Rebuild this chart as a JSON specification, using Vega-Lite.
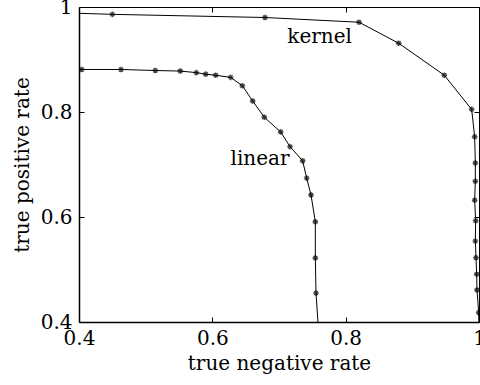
{
  "$schema": "https://vega.github.io/schema/vega-lite/v6.json",
  "width": 400,
  "height": 315,
  "autosize": {"type": "none"},
  "padding": {"left": 79, "top": 7, "right": 1, "bottom": 63},
  "background": "white",
  "config": {
    "view": {"stroke": null},
    "font": "DejaVu Serif",
    "axis": {
      "labelFont": "DejaVu Serif",
      "titleFont": "DejaVu Serif",
      "labelFontSize": 20,
      "titleFontSize": 20,
      "titleFontWeight": "normal",
      "labelColor": "#000",
      "titleColor": "#000",
      "domainColor": "#000",
      "tickColor": "#000",
      "grid": false
    }
  },
  "data": {
    "values": [
      {"series": "kernel", "i": 0, "x": 0.35, "y": 0.990, "m": false},
      {"series": "kernel", "i": 1, "x": 0.45, "y": 0.986, "m": true},
      {"series": "kernel", "i": 2, "x": 0.679, "y": 0.980, "m": true},
      {"series": "kernel", "i": 3, "x": 0.82, "y": 0.971, "m": true},
      {"series": "kernel", "i": 4, "x": 0.8795, "y": 0.931, "m": true},
      {"series": "kernel", "i": 5, "x": 0.948, "y": 0.870, "m": true},
      {"series": "kernel", "i": 6, "x": 0.989, "y": 0.805, "m": true},
      {"series": "kernel", "i": 7, "x": 0.9935, "y": 0.753, "m": true},
      {"series": "kernel", "i": 8, "x": 0.9945, "y": 0.703, "m": true},
      {"series": "kernel", "i": 9, "x": 0.9945, "y": 0.668, "m": true},
      {"series": "kernel", "i": 10, "x": 0.9935, "y": 0.632, "m": true},
      {"series": "kernel", "i": 11, "x": 0.995, "y": 0.593, "m": true},
      {"series": "kernel", "i": 12, "x": 0.9945, "y": 0.554, "m": true},
      {"series": "kernel", "i": 13, "x": 0.9955, "y": 0.5225, "m": true},
      {"series": "kernel", "i": 14, "x": 0.9965, "y": 0.491, "m": true},
      {"series": "kernel", "i": 15, "x": 0.997, "y": 0.461, "m": true},
      {"series": "kernel", "i": 16, "x": 0.9995, "y": 0.418, "m": true},
      {"series": "kernel", "i": 17, "x": 1.0, "y": 0.38, "m": false},
      {"series": "linear", "i": 0, "x": 0.3, "y": 0.881, "m": false},
      {"series": "linear", "i": 1, "x": 0.404, "y": 0.881, "m": true},
      {"series": "linear", "i": 2, "x": 0.463, "y": 0.881, "m": true},
      {"series": "linear", "i": 3, "x": 0.5145, "y": 0.879, "m": true},
      {"series": "linear", "i": 4, "x": 0.552, "y": 0.878, "m": true},
      {"series": "linear", "i": 5, "x": 0.576, "y": 0.875, "m": true},
      {"series": "linear", "i": 6, "x": 0.590, "y": 0.872, "m": true},
      {"series": "linear", "i": 7, "x": 0.605, "y": 0.870, "m": true},
      {"series": "linear", "i": 8, "x": 0.6275, "y": 0.866, "m": true},
      {"series": "linear", "i": 9, "x": 0.645, "y": 0.850, "m": true},
      {"series": "linear", "i": 10, "x": 0.6605, "y": 0.821, "m": true},
      {"series": "linear", "i": 11, "x": 0.678, "y": 0.790, "m": true},
      {"series": "linear", "i": 12, "x": 0.7025, "y": 0.762, "m": true},
      {"series": "linear", "i": 13, "x": 0.7165, "y": 0.734, "m": true},
      {"series": "linear", "i": 14, "x": 0.7355, "y": 0.707, "m": true},
      {"series": "linear", "i": 15, "x": 0.7415, "y": 0.674, "m": true},
      {"series": "linear", "i": 16, "x": 0.748, "y": 0.642, "m": true},
      {"series": "linear", "i": 17, "x": 0.7545, "y": 0.591, "m": true},
      {"series": "linear", "i": 18, "x": 0.7545, "y": 0.522, "m": true},
      {"series": "linear", "i": 19, "x": 0.7555, "y": 0.455, "m": true},
      {"series": "linear", "i": 20, "x": 0.7595, "y": 0.38, "m": false}
    ]
  },
  "layer": [
    {
      "mark": {"type": "line", "color": "black", "strokeWidth": 1, "clip": true},
      "encoding": {
        "x": {
          "field": "x", "type": "quantitative",
          "scale": {"domain": [0.4, 1], "nice": false, "zero": false},
          "axis": {"orient": "bottom", "values": [0.4, 0.6, 0.8, 1], "format": "~g", "tickSize": -5, "labelPadding": 11, "domainWidth": 1.5, "title": "true negative rate", "titlePadding": 5, "labelFlush": false}
        },
        "y": {
          "field": "y", "type": "quantitative",
          "scale": {"domain": [0.4, 1], "nice": false, "zero": false},
          "axis": {"orient": "left", "values": [0.4, 0.6, 0.8, 1], "format": "~g", "tickSize": -5, "labelPadding": 12, "domainWidth": 1.5, "title": "true positive rate", "titlePadding": 8, "labelFlush": false}
        },
        "detail": {"field": "series"},
        "order": {"field": "i", "type": "quantitative"}
      }
    },
    {
      "transform": [{"filter": "datum.m"}],
      "mark": {"type": "point", "shape": "M-1,0L1,0M0,-1L0,1M-0.7,-0.7L0.7,0.7M-0.7,0.7L0.7,-0.7", "filled": false, "stroke": "black", "size": 32, "strokeWidth": 1.4, "clip": true},
      "encoding": {
        "x": {"field": "x", "type": "quantitative", "axis": null},
        "y": {"field": "y", "type": "quantitative", "axis": null}
      }
    },
    {
      "data": {"values": [{"label": "kernel", "x": 0.761, "y": 0.931}, {"label": "linear", "x": 0.6715, "y": 0.699}]},
      "mark": {"type": "text", "font": "DejaVu Serif", "fontSize": 20, "baseline": "alphabetic", "align": "center", "color": "black"},
      "encoding": {
        "x": {"field": "x", "type": "quantitative", "axis": null},
        "y": {"field": "y", "type": "quantitative", "axis": null},
        "text": {"field": "label"}
      }
    },
    {
      "transform": [{"filter": "datum.m"}],
      "mark": {"type": "point", "opacity": 0},
      "encoding": {
        "x": {"field": "x", "type": "quantitative", "axis": {"orient": "top", "values": [0.4, 0.6, 0.8, 1], "labels": false, "tickSize": -5, "domainWidth": 1, "title": null}},
        "y": {"field": "y", "type": "quantitative", "axis": {"orient": "right", "values": [0.4, 0.6, 0.8, 1], "labels": false, "tickSize": -5, "domainWidth": 1, "title": null}}
      }
    }
  ],
  "resolve": {"axis": {"x": "independent", "y": "independent"}}
}
